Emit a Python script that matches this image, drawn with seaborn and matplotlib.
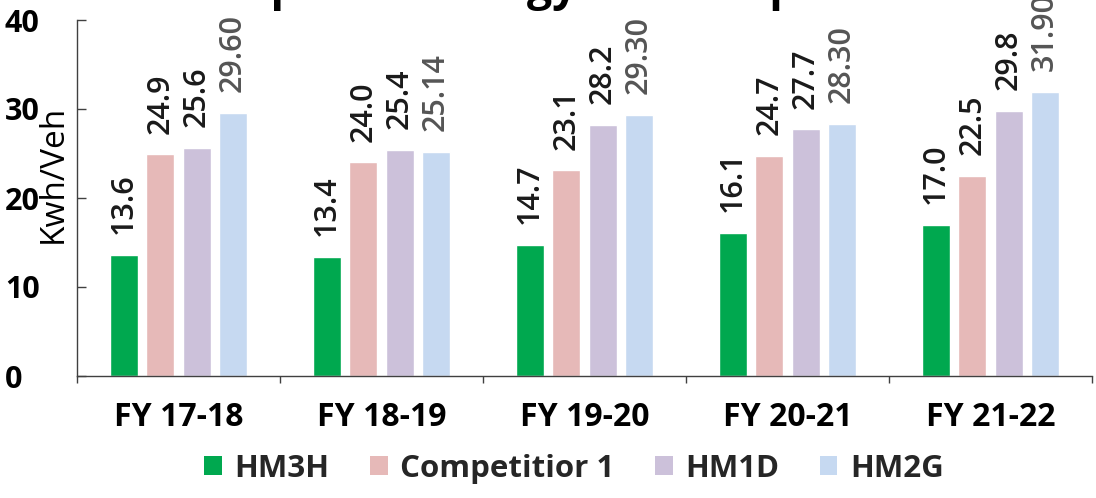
import matplotlib
matplotlib.use("Agg")
import matplotlib.pyplot as plt
import seaborn as sns
import pandas as pd
import numpy as np
from matplotlib.patches import Patch

# ---- data ----
years = ["FY 17-18", "FY 18-19", "FY 19-20", "FY 20-21", "FY 21-22"]
series = ["HM3H", "Competitior 1", "HM1D", "HM2G"]
hm3h = [13.6, 13.4, 14.7, 16.1, 17.0]
competitor1 = [24.9, 24.0, 23.1, 24.7, 22.5]
hm1d = [25.6, 25.4, 28.2, 27.7, 29.8]
hm2g = [29.60, 25.14, 29.30, 28.30, 31.90]
label_decimals = [1, 1, 1, 2]
yticks = [0, 10, 20, 30, 40]
title = "Specific Energy Consumption"
ylabel = "Kwh/Veh"

colors = ["#00A84F", "#E6B9B8", "#CCC1DA", "#C6D9F1"]
label_colors = ["#1a1a1a", "#1a1a1a", "#1a1a1a", "#555555"]

values = [hm3h, competitor1, hm1d, hm2g]
df = pd.DataFrame({
    "year": years * len(series),
    "series": [s for s in series for _ in years],
    "value": [v for vals in values for v in vals],
})

sns.set_theme(style="white")
plt.rcParams["font.family"] = ["Open Sans", "DejaVu Sans"]

W, H = 1096, 498
fig = plt.figure(figsize=(W / 100, H / 100), dpi=100)
fig.patch.set_facecolor("white")
ax = fig.add_axes([77 / W, 1 - 376 / H, (1092 - 77) / W, 356 / H])

sns.barplot(data=df, x="year", y="value", hue="series", order=years,
            hue_order=series, palette=colors, saturation=1, width=0.716,
            gap=0.23, errorbar=None, legend=False, ax=ax)

for i, cont in enumerate(ax.containers):
    d = label_decimals[i]
    labels = [f"{v:.{d}f}" for v in values[i]]
    ax.bar_label(cont, labels=labels, rotation=90, padding=15, fontsize=22,
                 fontweight="semibold", color=label_colors[i], clip_on=False)

ax.set_xlim(-0.5, len(years) - 0.5)
ax.set_ylim(0, 40)
ax.set_xlabel("")
ax.set_ylabel("")

ax.set_yticks(yticks)
ax.set_yticklabels([str(t) for t in yticks])
ax.tick_params(axis="y", left=True, direction="in", length=6.5, width=1,
               color="#404040", pad=52, labelsize=22, labelcolor="black")
for lbl in ax.get_yticklabels():
    lbl.set_horizontalalignment("left")
    lbl.set_fontweight("bold")

ax.tick_params(axis="x", which="major", bottom=True, length=0, pad=18,
               labelsize=23, labelcolor="black")
for lbl in ax.get_xticklabels():
    lbl.set_fontweight("bold")
ax.set_xticks(np.arange(-0.5, len(years), 1.0), minor=True)
ax.tick_params(axis="x", which="minor", bottom=True, direction="out",
               length=5, width=1, color="#404040")

for s in ["top", "right"]:
    ax.spines[s].set_visible(False)
for s in ["left", "bottom"]:
    ax.spines[s].set_color("#404040")
    ax.spines[s].set_linewidth(1.0)

fig.text(53 / W, 1 - 174 / H, ylabel, rotation=90, ha="center", va="center",
         fontsize=24, color="black")

fig.text(567 / W, 1.0, title, ha="center", va="baseline", fontsize=32,
         fontweight="bold", color="black")

handles = [Patch(facecolor=c, edgecolor="none", label=s) for c, s in zip(colors, series)]
fig.legend(handles=handles, loc="center", bbox_to_anchor=(574 / W, 1 - 469 / H),
           ncol=4, frameon=False, prop={"weight": "bold", "size": 22.5},
           handlelength=0.56, handleheight=0.56, handletextpad=0.4,
           columnspacing=1.3, borderaxespad=0, borderpad=0)

fig.savefig("out.png", dpi=100)
